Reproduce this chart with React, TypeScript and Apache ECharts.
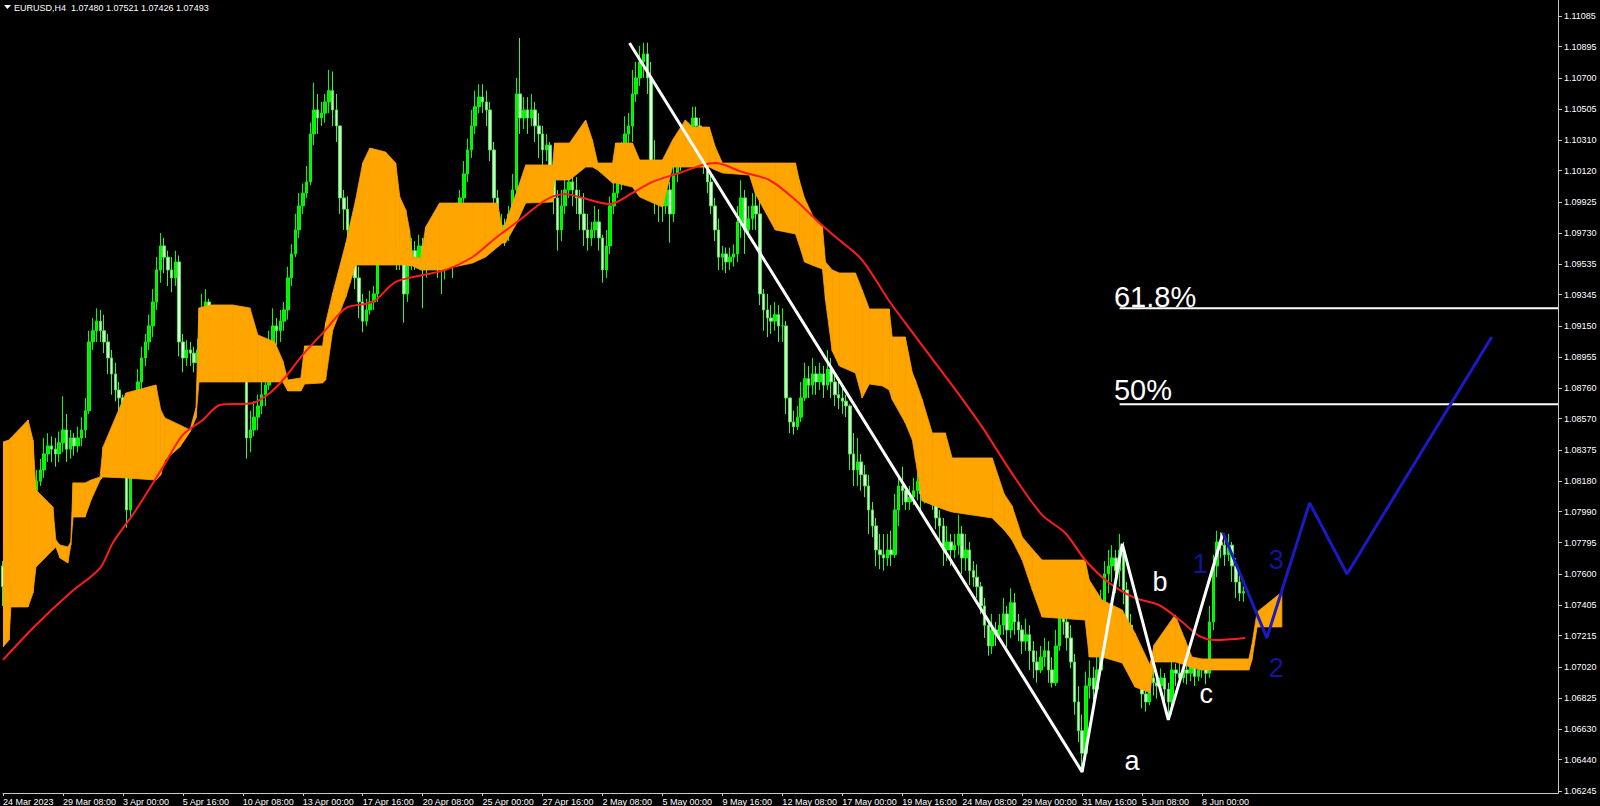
import React, { useEffect, useRef } from 'react';
import * as echarts from 'echarts';

// ---- Header ----
const headerText = 'EURUSD,H4  1.07480 1.07521 1.07426 1.07493';
const lastPrice = 1.07493;

// ---- Candles (H4 bars from 24 Mar 2023 16:00 to 9 Jun 2023 20:00) ----
const firstOpen = 1.0765;
const closes = [
  1.0752, 1.0760,
  1.0768, 1.0775, 1.0790, 1.0785, 1.0800, 1.0805,
  1.0812, 1.0818, 1.0825, 1.0835, 1.0840, 1.0838,
  1.0835, 1.0842, 1.0850, 1.0838, 1.0845, 1.0840,
  1.0845, 1.0850, 1.0862, 1.0905, 1.0912, 1.0918,
  1.0912, 1.0905, 1.0895, 1.0885, 1.0875, 1.0870,
  1.0835, 1.0800, 1.0830, 1.0860, 1.0880, 1.0895,
  1.0905, 1.0915, 1.0930, 1.0950, 1.0965, 1.0958,
  1.0950, 1.0945, 1.0955, 1.0905, 1.0895, 1.0900,
  1.0898, 1.0892, 1.0900, 1.0925, 1.0930, 1.0922,
  1.0915, 1.0908, 1.0900, 1.0905, 1.0902, 1.0900,
  1.0898, 1.0902, 1.0885, 1.0845, 1.0850, 1.0858,
  1.0865, 1.0872, 1.0878, 1.0905, 1.0915, 1.0912,
  1.0918, 1.0925, 1.0945, 1.0960, 1.0975, 1.0990,
  1.0998, 1.1005, 1.1035, 1.1050, 1.1045, 1.1048,
  1.1055, 1.1062, 1.1050, 1.1040, 1.0995, 1.0988,
  1.0975, 1.0965, 1.0945, 1.0930, 1.0918, 1.0925,
  1.0930, 1.0935, 1.0958, 1.0972, 1.0965, 1.0970,
  1.0962, 1.0958, 1.0960, 1.0935, 1.0955, 1.0962,
  1.0958, 1.0965, 1.0950, 1.0962, 1.0968, 1.0960,
  1.0955, 1.0950, 1.0960, 1.0965, 1.0958, 1.0985,
  1.0995, 1.1010, 1.1025, 1.1040, 1.1052, 1.1058,
  1.1055, 1.1050, 1.1025, 1.0995, 1.0975, 1.0978,
  1.0975, 1.0985, 1.1000, 1.1060, 1.1045, 1.1050,
  1.1045, 1.1050, 1.1040, 1.1035, 1.1025, 1.1028,
  1.1010, 1.0995, 1.0975, 1.0990, 1.1000, 1.1005,
  1.1000, 1.0995, 1.0985, 1.0975, 1.0970, 1.0975,
  1.0980, 1.0970, 1.0950, 1.0965, 1.0990, 1.0998,
  1.1005, 1.1020, 1.1035, 1.1040, 1.1060, 1.1070,
  1.1080, 1.1085, 1.1070, 1.1015, 1.1000, 1.0995,
  1.0990, 1.1000, 1.0985, 1.1010, 1.1025, 1.1020,
  1.1025, 1.1035, 1.1045, 1.1040, 1.1025, 1.1015,
  1.1005, 1.0990, 1.0975, 1.0958, 1.0960, 1.0955,
  1.0958, 1.0960, 1.0980, 1.0995, 1.0975, 1.0982,
  1.0990, 1.0985, 1.0935, 1.0925, 1.0920, 1.0918,
  1.0922, 1.0915, 1.0915, 1.0870, 1.0855, 1.0852,
  1.0858, 1.0870, 1.0882, 1.0878, 1.0885, 1.0880,
  1.0885, 1.0878, 1.0888, 1.0880, 1.0872, 1.0870,
  1.0868, 1.0865, 1.0835, 1.0825, 1.0830, 1.0822,
  1.0815, 1.0800, 1.0790, 1.0775, 1.0772, 1.0770,
  1.0775, 1.0772, 1.0800, 1.0815, 1.0812, 1.0805,
  1.0808, 1.0812, 1.0818, 1.0810, 1.0815, 1.0812,
  1.0805, 1.0795, 1.0790, 1.0775, 1.0780, 1.0775,
  1.0778, 1.0785, 1.0770, 1.0775, 1.0762, 1.0758,
  1.0752, 1.0740, 1.0728, 1.0715, 1.0725, 1.0722,
  1.0728, 1.0735, 1.0725, 1.0742, 1.0730, 1.0725,
  1.0718, 1.0722, 1.0712, 1.0705, 1.0700, 1.0708,
  1.0712, 1.0700, 1.0692, 1.0715, 1.0738, 1.0730,
  1.0720, 1.0705, 1.0680, 1.0662, 1.0648, 1.0690,
  1.0695, 1.0688, 1.0700, 1.0740, 1.0760, 1.0765,
  1.0770, 1.0762, 1.0775, 1.0750, 1.0728, 1.0720,
  1.0710, 1.0700, 1.0685, 1.0680, 1.0695, 1.0692,
  1.0690, 1.0695, 1.0688, 1.0680, 1.0700, 1.0698,
  1.0695, 1.0700, 1.0698, 1.0703, 1.0696, 1.0700,
  1.0702, 1.0698, 1.0730, 1.0765, 1.0780, 1.0778,
  1.0772, 1.0778, 1.0765, 1.0755, 1.0748, 1.0749,
];
const highs = [
  1.0768, 1.0770,
  1.0775, 1.0782, 1.0798, 1.0796, 1.0810, 1.0815,
  1.0819, 1.0825, 1.0832, 1.0845, 1.0848, 1.0846,
  1.0845, 1.0849, 1.0871, 1.0860, 1.0850, 1.0848,
  1.0852, 1.0858, 1.0870, 1.0912, 1.0920, 1.0926,
  1.0925, 1.0922, 1.0910, 1.0900, 1.0892, 1.0880,
  1.0872, 1.0840, 1.0838, 1.0868, 1.0888, 1.0902,
  1.0910, 1.0922, 1.0938, 1.0958, 1.0973, 1.0970,
  1.0962, 1.0958, 1.0962, 1.0959, 1.0910, 1.0906,
  1.0905, 1.0902, 1.0907, 1.0935, 1.0938, 1.0932,
  1.0925, 1.0918, 1.0912, 1.0915, 1.0910, 1.0906,
  1.0905, 1.0912, 1.0908, 1.0888, 1.0862, 1.0868,
  1.0872, 1.0880, 1.0881, 1.0912, 1.0926, 1.0920,
  1.0925, 1.0930, 1.0952, 1.0966, 1.0985, 1.0998,
  1.1004, 1.1015, 1.1042, 1.1067, 1.1060, 1.1055,
  1.1060, 1.1075, 1.1074, 1.1060, 1.1040, 1.1000,
  1.0996, 1.0982, 1.0975, 1.0952, 1.0935, 1.0932,
  1.0937, 1.0940, 1.0965, 1.0983, 1.0978, 1.0976,
  1.0975, 1.0968, 1.0968, 1.0962, 1.0960, 1.0970,
  1.0968, 1.0972, 1.0970, 1.0970, 1.0975, 1.0972,
  1.0966, 1.0962, 1.0968, 1.0975, 1.0970, 1.0992,
  1.1000, 1.1018, 1.1032, 1.1050, 1.1062, 1.1066,
  1.1066, 1.1062, 1.1055, 1.1030, 1.1000, 1.0985,
  1.0982, 1.0990, 1.1010, 1.1070, 1.1095, 1.1058,
  1.1058, 1.1060, 1.1055, 1.1048, 1.1040, 1.1035,
  1.1030, 1.1015, 1.1000, 1.1000, 1.1012, 1.1015,
  1.1012, 1.1008, 1.1000, 1.0998, 1.0985, 1.0980,
  1.0990, 1.0988, 1.0972, 1.0975, 1.0996, 1.1005,
  1.1010, 1.1030, 1.1046, 1.1048, 1.1075, 1.1080,
  1.1090, 1.1092, 1.1092, 1.1080, 1.1031, 1.1010,
  1.1000, 1.1010, 1.1005, 1.1020, 1.1035, 1.1030,
  1.1030, 1.1042, 1.1052, 1.1052, 1.1045, 1.1030,
  1.1017, 1.1010, 1.0995, 1.0982, 1.0965, 1.0964,
  1.0964, 1.0966, 1.0990, 1.1006, 1.1000, 1.0990,
  1.0998, 1.0999, 1.0995, 1.0938, 1.0935, 1.0928,
  1.0930, 1.0928, 1.0926, 1.0918, 1.0870, 1.0862,
  1.0865, 1.0880, 1.0892, 1.0890, 1.0895, 1.0890,
  1.0892, 1.0890, 1.0900, 1.0895, 1.0885, 1.0880,
  1.0878, 1.0872, 1.0866, 1.0848, 1.0845, 1.0835,
  1.0828, 1.0822, 1.0805, 1.0795, 1.0785, 1.0785,
  1.0785, 1.0787, 1.0810, 1.0822, 1.0827, 1.0815,
  1.0815, 1.0820, 1.0823, 1.0822, 1.0822, 1.0818,
  1.0815, 1.0810, 1.0800, 1.0795, 1.0790, 1.0785,
  1.0785, 1.0797, 1.0790, 1.0785, 1.0780, 1.0768,
  1.0766, 1.0755, 1.0745, 1.0732, 1.0735, 1.0730,
  1.0735, 1.0745, 1.0740, 1.0751, 1.0748, 1.0735,
  1.0728, 1.0732, 1.0728, 1.0718, 1.0712, 1.0715,
  1.0720, 1.0718, 1.0708, 1.0725, 1.0746, 1.0745,
  1.0736, 1.0728, 1.0710, 1.0690, 1.0672, 1.0699,
  1.0706, 1.0702, 1.0712, 1.0750, 1.0768, 1.0775,
  1.0778, 1.0775, 1.0785, 1.0780, 1.0755, 1.0735,
  1.0718, 1.0716, 1.0708, 1.0695, 1.0701, 1.0700,
  1.0698, 1.0701, 1.0698, 1.0692, 1.0706, 1.0704,
  1.0704, 1.0706, 1.0705, 1.0708, 1.0706, 1.0705,
  1.0706, 1.0705, 1.0740, 1.0772, 1.0787, 1.0786,
  1.0782, 1.0785, 1.0780, 1.0770, 1.0760, 1.07521,
];
const lows = [
  1.0740, 1.0745,
  1.0755, 1.0762, 1.0770, 1.0776, 1.0782, 1.0795,
  1.0800, 1.0808, 1.0815, 1.0820, 1.0830, 1.0830,
  1.0827, 1.0830, 1.0836, 1.0830, 1.0832, 1.0834,
  1.0836, 1.0840, 1.0845, 1.0860, 1.0900, 1.0905,
  1.0905, 1.0898, 1.0885, 1.0872, 1.0868, 1.0862,
  1.0825, 1.0789, 1.0795, 1.0825, 1.0855, 1.0875,
  1.0890, 1.0900, 1.0908, 1.0925, 1.0942, 1.0948,
  1.0940, 1.0936, 1.0940, 1.0896, 1.0886, 1.0890,
  1.0890, 1.0886, 1.0888, 1.0898, 1.0918, 1.0915,
  1.0908, 1.0900, 1.0893, 1.0895, 1.0896, 1.0895,
  1.0890, 1.0894, 1.0880, 1.0832, 1.0836, 1.0846,
  1.0850, 1.0860, 1.0865, 1.0875, 1.0900, 1.0903,
  1.0905, 1.0912, 1.0919, 1.0940, 1.0958, 1.0970,
  1.0985, 1.0995, 1.1003, 1.1028, 1.1035, 1.1040,
  1.1042, 1.1048, 1.1040, 1.1030, 1.0985, 1.0975,
  1.0970, 1.0955, 1.0938, 1.0920, 1.0911, 1.0915,
  1.0922, 1.0925, 1.0930, 1.0955, 1.0956, 1.0960,
  1.0955, 1.0950, 1.0950, 1.0917, 1.0930, 1.0950,
  1.0950, 1.0952, 1.0926, 1.0945, 1.0955, 1.0950,
  1.0945, 1.0935, 1.0944, 1.0952, 1.0945, 1.0955,
  1.0980, 1.0990, 1.1005, 1.1020, 1.1035, 1.1048,
  1.1048, 1.1040, 1.1018, 1.0988, 1.0965, 1.0968,
  1.0965, 1.0968, 1.0980, 1.0998, 1.1035, 1.1038,
  1.1035, 1.1040, 1.1030, 1.1020, 1.1010, 1.1018,
  1.1000, 1.0985, 1.0962, 1.0968, 1.0985, 1.0995,
  1.0990, 1.0985, 1.0975, 1.0965, 1.0962, 1.0965,
  1.0970, 1.0962, 1.0942, 1.0945, 1.0960, 1.0985,
  1.0995, 1.1000, 1.1015, 1.1025, 1.1030, 1.1055,
  1.1065, 1.1070, 1.1060, 1.1008, 1.0985, 1.0980,
  1.0980, 1.0985, 1.0967, 1.0980, 1.1005, 1.1012,
  1.1015, 1.1020, 1.1030, 1.1030, 1.1018, 1.1010,
  1.0998, 1.0985, 1.0968, 1.0950, 1.0950, 1.0948,
  1.0950, 1.0952, 1.0955, 1.0970, 1.0960, 1.0970,
  1.0975, 1.0975, 1.0928, 1.0912, 1.0908, 1.0910,
  1.0912, 1.0905, 1.0905, 1.0860, 1.0848, 1.0847,
  1.0850, 1.0855, 1.0868, 1.0870, 1.0872, 1.0872,
  1.0875, 1.0870, 1.0875, 1.0870, 1.0865, 1.0863,
  1.0860, 1.0858, 1.0825, 1.0815, 1.0815, 1.0812,
  1.0808, 1.0785, 1.0783, 1.0765, 1.0763, 1.0762,
  1.0765, 1.0765, 1.0770, 1.0790, 1.0803, 1.0800,
  1.0800, 1.0803, 1.0806, 1.0800, 1.0804, 1.0805,
  1.0800, 1.0788, 1.0780, 1.0765, 1.0768, 1.0765,
  1.0770, 1.0772, 1.0760, 1.0762, 1.0753, 1.0752,
  1.0745, 1.0735, 1.0720, 1.0709, 1.0710, 1.0715,
  1.0718, 1.0722, 1.0714, 1.0720, 1.0722, 1.0718,
  1.0710, 1.0712, 1.0700, 1.0695, 1.0692, 1.0698,
  1.0702, 1.0692, 1.0689, 1.0690, 1.0712, 1.0722,
  1.0712, 1.0701, 1.0672, 1.0655, 1.0636, 1.0645,
  1.0682, 1.0679, 1.0685, 1.0698, 1.0730, 1.0748,
  1.0755, 1.0748, 1.0752, 1.0741, 1.0716, 1.0712,
  1.0702, 1.0690, 1.0676, 1.0674, 1.0678, 1.0684,
  1.0682, 1.0684, 1.0679, 1.0669, 1.0672, 1.0690,
  1.0690, 1.0692, 1.0691, 1.0693, 1.0690, 1.0693,
  1.0695, 1.0691, 1.0695, 1.0725, 1.0758, 1.0770,
  1.0765, 1.0768, 1.0755, 1.0745, 1.0743, 1.07426,
];

// ---- Axis ticks ----
const xTickLabels = [
  '24 Mar 2023', '29 Mar 08:00', '3 Apr 00:00', '5 Apr 16:00', '10 Apr 08:00', '13 Apr 00:00',
  '17 Apr 16:00', '20 Apr 08:00', '25 Apr 00:00', '27 Apr 16:00', '2 May 08:00', '5 May 00:00',
  '9 May 16:00', '12 May 08:00', '17 May 00:00', '19 May 16:00', '24 May 08:00', '29 May 00:00',
  '31 May 16:00', '5 Jun 08:00', '8 Jun 00:00',
];
const yTickValues = [
  1.11085, 1.10895, 1.10700, 1.10505, 1.10310, 1.10120, 1.09925, 1.09730, 1.09535,
  1.09345, 1.09150, 1.08955, 1.08760, 1.08570, 1.08375, 1.08180, 1.07990, 1.07795,
  1.07600, 1.07405, 1.07215, 1.07020, 1.06825, 1.06630, 1.06440, 1.06245,
];

// ---- Ichimoku cloud (bar position, span A, span B) ----
const cloudIdx = [
  0, 1.6, 2.1, 6.7, 8.0, 8.8, 13.3, 14.1, 15.2, 17.3, 18.1, 18.7, 21.9, 23.5, 25.9, 26.7,
  32.8, 40.8, 42.1, 43.2, 47.2, 49.9, 51.5, 52.3, 55.2, 61.3, 65.9, 68.0, 72.5, 74.7, 76.0,
  79.5, 80.5, 85.3, 86.1, 88.0, 91.5, 94.1, 96.0, 97.9, 102.1, 104.8, 105.9, 107.5, 108.5,
  109.3, 111.5, 112.8, 116.5, 125.3, 128.8, 132.0, 133.3, 134.1, 136.8, 139.5, 146.7, 147.2,
  151.2, 155.5, 157.3, 158.7, 162.7, 163.5, 168.0, 169.9, 176.0, 178.7, 182.1, 184.0, 188.5,
  190.1, 192.0, 199.2, 200.8, 206.1, 211.5, 212.5, 213.9, 216.5, 218.7, 219.5, 221.3, 223.2,
  227.5, 229.3, 231.2, 234.7, 236.5, 237.3, 240.8, 242.7, 243.5, 245.3, 248.0, 251.5, 253.3,
  264.0, 267.2, 269.3, 272.0, 274.7, 277.3, 288.8, 289.9, 293.3, 298.7, 302.1, 306.1, 307.2,
  312.8, 315.5, 317.3, 320.0, 332.5, 333.3, 334.7, 341.3,
];
const spanA = [
  1.08425, 1.08437, 1.08450, 1.08562, 1.08437, 1.08125, 1.08019, 1.07812, 1.07781, 1.07769,
  1.07800, 1.08169, 1.08169, 1.08187, 1.08206, 1.08394, 1.08731, 1.08781, 1.08625, 1.08575,
  1.08531, 1.08500, 1.08637, 1.09262, 1.09281, 1.09281, 1.09262, 1.09094, 1.09050, 1.08931,
  1.08812, 1.08825, 1.09025, 1.09025, 1.09169, 1.09356, 1.09668, 1.09937, 1.10168, 1.10262,
  1.10237, 1.10168, 1.09956, 1.09875, 1.09750, 1.09581, 1.09575, 1.09768, 1.09918, 1.09918,
  1.09918, 1.09918, 1.09750, 1.09793, 1.09968, 1.10156, 1.10156, 1.10293, 1.10293, 1.10437,
  1.10312, 1.10168, 1.10168, 1.10293, 1.10293, 1.10187, 1.10187, 1.10312, 1.10437, 1.10393,
  1.10393, 1.10268, 1.10168, 1.10168, 1.10168, 1.10168, 1.10168, 1.10062, 1.09950, 1.09818,
  1.09768, 1.09550, 1.09500, 1.09481, 1.09481, 1.09375, 1.09256, 1.09256, 1.09256, 1.09081,
  1.09081, 1.08856, 1.08812, 1.08691, 1.08481, 1.08481, 1.08325, 1.08325, 1.08100, 1.08025,
  1.07831, 1.07756, 1.07687, 1.07687, 1.07562, 1.07437, 1.07375, 1.07231, 1.07031, 1.07156,
  1.07344, 1.07187, 1.07081, 1.07069, 1.07069, 1.07156, 1.07362, 1.07487,
];
const spanB = [
  1.07143, 1.07187, 1.07394, 1.07394, 1.07481, 1.07644, 1.07750, 1.07769, 1.07700, 1.07669,
  1.07781, 1.07956, 1.07956, 1.08062, 1.08187, 1.08206, 1.08200, 1.08187, 1.08219, 1.08312,
  1.08394, 1.08487, 1.08575, 1.08800, 1.08800, 1.08800, 1.08800, 1.08800, 1.08800, 1.08800,
  1.08744, 1.08744, 1.08787, 1.08794, 1.08812, 1.09125, 1.09331, 1.09531, 1.09531, 1.09531,
  1.09531, 1.09531, 1.09531, 1.09531, 1.09525, 1.09525, 1.09500, 1.09500, 1.09500, 1.09543,
  1.09581, 1.09643, 1.09668, 1.09668, 1.09781, 1.09918, 1.09925, 1.10062, 1.10062, 1.10143,
  1.10143, 1.10125, 1.10043, 1.10043, 1.10018, 1.09956, 1.09893, 1.10143, 1.10143, 1.10143,
  1.10143, 1.10125, 1.10106, 1.10093, 1.09975, 1.09750, 1.09725, 1.09656, 1.09550, 1.09525,
  1.09506, 1.09312, 1.08994, 1.08900, 1.08856, 1.08700, 1.08787, 1.08775, 1.08750, 1.08691,
  1.08544, 1.08437, 1.08319, 1.08056, 1.08031, 1.08000, 1.07987, 1.07950, 1.07875, 1.07812,
  1.07687, 1.07500, 1.07331, 1.07312, 1.07081, 1.07081, 1.07044, 1.06894, 1.06857, 1.07050,
  1.07050, 1.07031, 1.07012, 1.07000, 1.07000, 1.07062, 1.07269, 1.07269,
];

// ---- Moving average (red) ----
const maIdx = [
  0, 8.8, 17.9, 25.9, 29.3, 35.5, 42.7, 48, 53.3, 57.9, 66.7, 71.2, 74.7, 80, 86.1, 91.5,
  98.7, 104.8, 112, 118.1, 125.3, 131.5, 137.9, 144.8, 150.1, 154.7, 161.9, 168, 173.3,
  180.5, 186.7, 190.1, 197.3, 204.5, 211.5, 217.9, 223.2, 229.3, 236.5, 240.8, 247.2,
  255.2, 261.3, 270.1, 277.3, 283.5, 288.8, 295.2, 302.1, 308.5, 314.7, 319.2, 323.5, 331.5,
];
const maVals = [
  1.07063, 1.07281, 1.07481, 1.07637, 1.07794, 1.08000, 1.08269, 1.08469, 1.08562, 1.08656,
  1.08669, 1.08731, 1.08812, 1.08969, 1.09125, 1.09262, 1.09300, 1.09425, 1.09468, 1.09500,
  1.09581, 1.09700, 1.09812, 1.09937, 1.09975, 1.09950, 1.09912, 1.09981, 1.10050, 1.10106,
  1.10156, 1.10168, 1.10112, 1.10062, 1.09937, 1.09793, 1.09687, 1.09562, 1.09306, 1.09169,
  1.08969, 1.08719, 1.08519, 1.08200, 1.07969, 1.07856, 1.07687, 1.07544, 1.07450, 1.07406,
  1.07300, 1.07213, 1.07187, 1.07200,
];

// ---- Wave drawing (white) and projection (blue) ----
const waveIdx = [167.2, 288, 298.7, 311, 325.6];
const waveVals = [1.10918, 1.06363, 1.07788, 1.06688, 1.07856];
const projIdx = [325.6, 337.3, 348.7, 358.7, 397.3];
const projVals = [1.07856, 1.07200, 1.08044, 1.07600, 1.09081];

// ---- Fibonacci levels ----
const fibLabels = ['61.8%', '50%'];
const fibLevels = [1.0926, 1.0866];
const fibTextLevels = [1.09331, 1.0875];
const fibStartIdx = 298;
const fibLabelIdx = 296.5;

// ---- Wave labels ----
const waveLabelText = ['a', 'b', 'c', '1', '2', '3'];
const waveLabelIdx = [301.3, 308.8, 321.1, 319.5, 339.8, 339.8];
const waveLabelVals = [1.06432, 1.0755, 1.0685, 1.07662, 1.07012, 1.07687];
const waveLabelBlue = [false, false, false, true, true, true];

const SLOTS = 416;
const LAST_BAR = closes.length - 1;
const FONT = 'Liberation Sans, Arial, sans-serif';

export default function App() {
  const ref = useRef<HTMLDivElement>(null);

  useEffect(() => {
    if (!ref.current) return;
    const chart = echarts.init(ref.current, undefined, { renderer: 'svg' });

    const slots = Array.from({ length: SLOTS }, (_, i) => String(i));
    const candles = closes.map((c, i) => {
      const o = i === 0 ? firstOpen : closes[i - 1];
      return [o, c, Math.min(lows[i], o, c), Math.max(highs[i], o, c)];
    });
    const showTick = (index: number) => index % 16 === 0 && index <= LAST_BAR;

    const cloudData = cloudIdx.map((x, i) => [x, spanA[i], spanB[i]]);

    const labelData = waveLabelText.map((t, i) => ({
      name: t,
      value: [waveLabelIdx[i], waveLabelVals[i]],
      label: { color: waveLabelBlue[i] ? '#13139c' : '#ffffff' },
    }));
    const fibTextData = fibLabels.map((t, i) => ({
      name: t,
      value: [fibLabelIdx, fibTextLevels[i]],
    }));

    const option: any = {
      animation: false,
      backgroundColor: '#000000',
      grid: { left: 0, right: 42, top: 0, bottom: 13, containLabel: false },
      graphic: [
        {
          type: 'polygon',
          shape: { points: [[4, 5], [11, 5], [7.5, 9]] },
          style: { fill: '#ffffff' },
          z: 100,
        },
        {
          type: 'text',
          x: 14,
          y: 3,
          style: { text: headerText, fill: '#ffffff', font: `9px ${FONT}` },
          z: 100,
        },
      ],
      xAxis: [
        {
          type: 'category',
          data: slots,
          boundaryGap: false,
          axisLine: { show: true, lineStyle: { color: '#c8c8c8', width: 1 } },
          axisTick: { show: true, interval: showTick, length: 3, lineStyle: { color: '#c8c8c8' } },
          axisLabel: {
            show: true,
            interval: showTick,
            formatter: (_v: string, index: number) => xTickLabels[index / 16] ?? '',
            color: '#ffffff',
            fontSize: 9,
            fontFamily: FONT,
            align: 'left',
            margin: 4,
          },
          splitLine: { show: false },
        },
        { type: 'value', min: 0, max: SLOTS - 1, show: false },
      ],
      yAxis: {
        type: 'value',
        position: 'right',
        min: 1.06231,
        max: 1.11187,
        axisLine: { show: true, onZero: false, lineStyle: { color: '#c8c8c8', width: 1 } },
        axisTick: { show: true, length: 4, customValues: yTickValues, lineStyle: { color: '#c8c8c8' } },
        axisLabel: {
          show: true,
          customValues: yTickValues,
          formatter: (v: number) => v.toFixed(5),
          color: '#ffffff',
          fontSize: 9,
          fontFamily: FONT,
          margin: 6,
        },
        splitLine: { show: false },
      },
      series: [
        {
          type: 'candlestick',
          xAxisIndex: 0,
          yAxisIndex: 0,
          data: candles,
          barWidth: 3,
          z: 2,
          itemStyle: {
            color: '#00f000',
            color0: '#e0ffe0',
            borderColor: '#00ff00',
            borderColor0: '#40f040',
            borderWidth: 1,
          },
          markLine: {
            silent: true,
            symbol: 'none',
            data: [{ yAxis: lastPrice }],
            lineStyle: { opacity: 0 },
            label: {
              show: true,
              position: 'end',
              distance: 1,
              formatter: lastPrice.toFixed(5),
              backgroundColor: '#ffffff',
              color: '#000000',
              fontSize: 9,
              fontFamily: FONT,
              padding: [2, 4, 1, 3],
            },
          },
        },
        {
          type: 'custom',
          coordinateSystem: 'cartesian2d',
          xAxisIndex: 1,
          yAxisIndex: 0,
          data: cloudData,
          clip: true,
          z: 3,
          silent: true,
          encode: { x: 0, y: [1, 2] },
          renderItem: (params: any, api: any) => {
            const i = params.dataIndex;
            if (i >= cloudIdx.length - 1) return { type: 'group', children: [] };
            const p1 = api.coord([cloudIdx[i], spanA[i]]);
            const p2 = api.coord([cloudIdx[i + 1], spanA[i + 1]]);
            const p3 = api.coord([cloudIdx[i + 1], spanB[i + 1]]);
            const p4 = api.coord([cloudIdx[i], spanB[i]]);
            return {
              type: 'polygon',
              shape: { points: [p1, p2, p3, p4] },
              style: { fill: '#ffa500', stroke: '#ffa500', lineWidth: 0.8 },
            };
          },
        },
        {
          type: 'line',
          xAxisIndex: 1,
          yAxisIndex: 0,
          data: maIdx.map((x, i) => [x, maVals[i]]),
          smooth: 0.3,
          showSymbol: false,
          z: 4,
          lineStyle: { color: '#ff1c1c', width: 2 },
        },
        ...fibLevels.map((lv) => ({
          type: 'line',
          xAxisIndex: 1,
          yAxisIndex: 0,
          data: [[fibStartIdx, lv], [SLOTS - 1, lv]],
          showSymbol: false,
          z: 5,
          lineStyle: { color: '#ffffff', width: 2 },
        })),
        {
          type: 'line',
          xAxisIndex: 1,
          yAxisIndex: 0,
          data: waveIdx.map((x, i) => [x, waveVals[i]]),
          showSymbol: false,
          z: 6,
          lineStyle: { color: '#ffffff', width: 3 },
        },
        {
          type: 'line',
          xAxisIndex: 1,
          yAxisIndex: 0,
          data: projIdx.map((x, i) => [x, projVals[i]]),
          showSymbol: false,
          z: 6,
          lineStyle: { color: '#1a1ac6', width: 3 },
        },
        {
          type: 'scatter',
          xAxisIndex: 1,
          yAxisIndex: 0,
          data: labelData,
          symbolSize: 0,
          z: 7,
          silent: true,
          itemStyle: { opacity: 0 },
          label: {
            show: true,
            position: 'inside',
            formatter: (p: any) => p.name,
            fontSize: 27,
            fontFamily: FONT,
            textBorderWidth: 0,
            textBorderColor: 'transparent',
            opacity: 1,
          },
        },
        {
          type: 'scatter',
          xAxisIndex: 1,
          yAxisIndex: 0,
          data: fibTextData,
          symbolSize: 0,
          z: 7,
          silent: true,
          itemStyle: { opacity: 0 },
          label: {
            show: true,
            position: 'right',
            distance: 0,
            formatter: (p: any) => p.name,
            color: '#ffffff',
            fontSize: 29,
            fontFamily: FONT,
            textBorderWidth: 0,
            textBorderColor: 'transparent',
            opacity: 1,
          },
        },
      ],
    };

    chart.setOption(option);
    return () => chart.dispose();
  }, []);

  return (
    <div
      ref={ref}
      style={{ position: 'absolute', left: 0, top: 0, width: 1600, height: 806, background: '#000' }}
    />
  );
}
